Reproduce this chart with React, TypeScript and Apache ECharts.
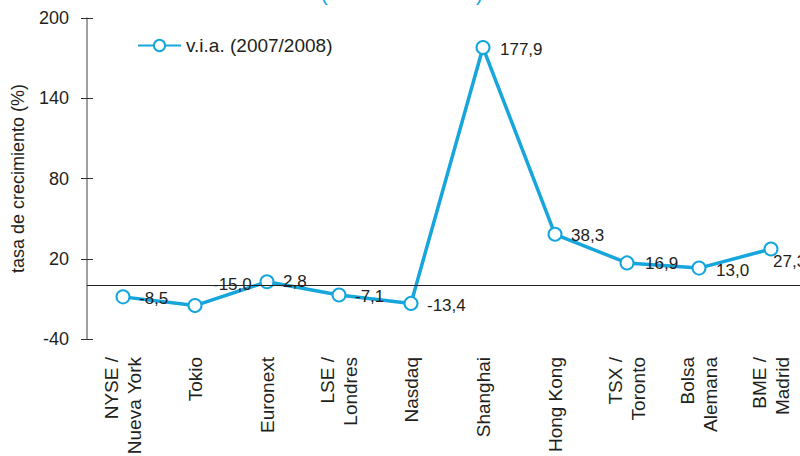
import React, { useEffect, useRef } from "react";
import * as echarts from "echarts";

const categories = [
  "NYSE /\nNueva York",
  "Tokio",
  "Euronext",
  "LSE /\nLondres",
  "Nasdaq",
  "Shanghai",
  "Hong Kong",
  "TSX /\nToronto",
  "Bolsa\nAlemana",
  "BME /\nMadrid",
];
const values = [-8.5, -15.0, 2.8, -7.1, -13.4, 177.9, 38.3, 16.9, 13.0, 27.3];
const seriesName = "v.i.a. (2007/2008)";
const yAxisName = "tasa de crecimiento (%)";
const yMin = -40;
const yMax = 200;
const yInterval = 60;

const LINE_COLOR = "#16a6dc";
const TEXT_COLOR = "#231f20";
const AXIS_COLOR = "#808080";
const FONT = "'Liberation Sans', Arial, Helvetica, sans-serif";

// label offsets (style only)
const labelOffsets: [number, number][] = [
  [0, 2],
  [2, -21],
  [0, 0],
  [0, 2],
  [0, 2],
  [1, 2],
  [0, 1],
  [2, 1],
  [1, 2],
  [-14, 13],
];

export default function App() {
  const ref = useRef<HTMLDivElement>(null);

  useEffect(() => {
    if (!ref.current) return;
    const chart = echarts.init(ref.current, undefined, { renderer: "svg" });
    const fmt = (v: number) => v.toFixed(1).replace(".", ",");
    const option: any = {
      animation: false,
      backgroundColor: "#ffffff",
      textStyle: { fontFamily: FONT },
      graphic: [
        {
          type: "text",
          left: 321,
          top: -16,
          style: { text: "(", fill: LINE_COLOR, font: `20px ${FONT}` },
        },
        {
          type: "text",
          left: 476,
          top: -16,
          style: { text: ")", fill: LINE_COLOR, font: `20px ${FONT}` },
        },
      ],
      legend: {
        left: 137,
        top: 36,
        padding: 0,
        itemWidth: 43,
        itemHeight: 14,
        itemGap: 5,
        textStyle: { fontSize: 19, color: TEXT_COLOR, fontFamily: FONT },
        data: [seriesName],
      },
      grid: {
        left: 87,
        width: 720,
        top: 18,
        bottom: 117,
        containLabel: false,
        outerBoundsMode: "none",
      },
      xAxis: {
        type: "category",
        data: categories,
        boundaryGap: true,
        axisLine: { show: false },
        axisTick: { show: false },
        axisLabel: {
          rotate: 90,
          interval: 0,
          margin: 18,
          fontSize: 19,
          lineHeight: 23,
          color: TEXT_COLOR,
          fontFamily: FONT,
        },
      },
      yAxis: [
        {
          type: "value",
          min: yMin,
          max: yMax,
          interval: yInterval,
          name: yAxisName,
          nameLocation: "middle",
          nameGap: 60,
          nameTextStyle: { fontSize: 18, color: TEXT_COLOR, fontFamily: FONT },
          axisLine: { show: true, lineStyle: { color: AXIS_COLOR, width: 1.5 } },
          axisTick: { show: true, length: 6, lineStyle: { color: "#333", width: 1 } },
          axisLabel: { fontSize: 18, color: TEXT_COLOR, margin: 18, fontFamily: FONT },
          splitLine: { show: false },
        },
        {
          type: "value",
          min: yMin,
          max: yMax,
          interval: yInterval,
          position: "left",
          axisLine: { show: false },
          axisTick: { show: true, inside: true, length: 6, lineStyle: { color: "#333", width: 1 } },
          axisLabel: { show: false },
          splitLine: { show: false },
        },
      ],
      series: [
        {
          name: seriesName,
          type: "line",
          data: values.map((v, i) => ({
            value: v,
            label: { offset: labelOffsets[i] },
          })),
          symbol: "emptyCircle",
          symbolSize: 13,
          lineStyle: { color: LINE_COLOR, width: 3.5 },
          itemStyle: { color: LINE_COLOR, borderWidth: 2 },
          label: {
            show: true,
            position: "right",
            distance: 8.5,
            fontSize: 17,
            color: TEXT_COLOR,
            fontFamily: FONT,
            formatter: (p: any) => fmt(p.value),
          },
          markLine: {
            silent: true,
            symbol: "none",
            label: { show: false },
            lineStyle: { color: "#222", width: 1, type: "solid" },
            data: [{ yAxis: 0 }],
          },
        },
      ],
    };
    chart.setOption(option);
    return () => chart.dispose();
  }, []);

  return <div ref={ref} style={{ width: 800, height: 456, position: "absolute", left: 0, top: 0 }} />;
}
